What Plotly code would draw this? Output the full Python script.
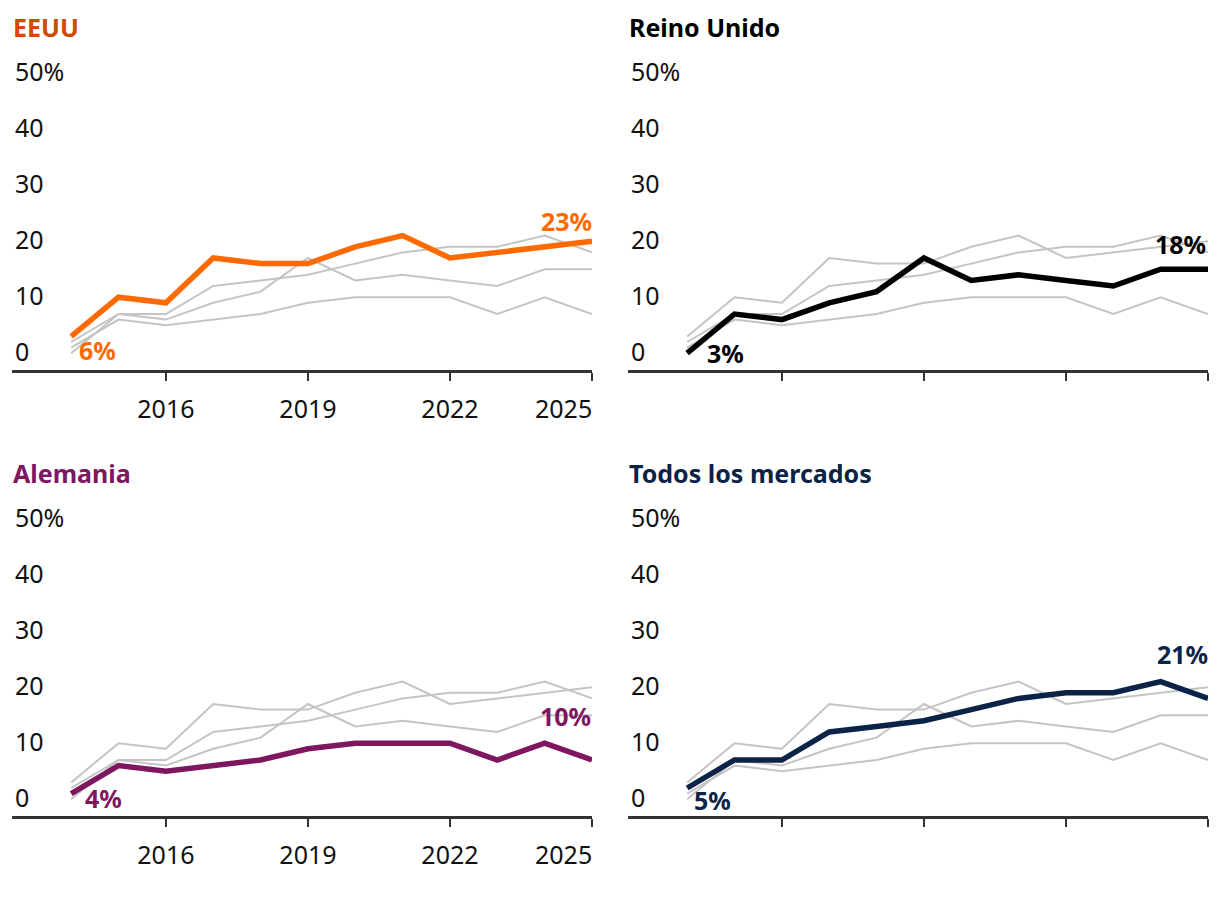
import plotly.graph_objects as go

years = list(range(2014, 2026))
eeuu = [6, 13, 12, 20, 19, 19, 22, 24, 20, 21, 22, 23]
reino_unido = [3, 10, 9, 12, 14, 20, 16, 17, 16, 15, 18, 18]
alemania = [4, 9, 8, 9, 10, 12, 13, 13, 13, 10, 13, 10]
todos = [5, 10, 10, 15, 16, 17, 19, 21, 22, 22, 24, 21]

names = ["EEUU", "Reino Unido", "Alemania", "Todos los mercados"]
series = [eeuu, reino_unido, alemania, todos]
line_colors = ["#ff6a00", "#000000", "#7f1660", "#0a2347"]
title_colors = ["#d04a02", "#000000", "#7f1660", "#0a2347"]

y_tickvals = [0, 10, 20, 30, 40, 50]
y_ticktext = ["0", "10", "20", "30", "40", "50%"]
x_tickvals = [2016, 2019, 2022, 2025]
x_ticktext = ["2016", "2019", "2022", ""]
last_year_label = "2025"

FONT = "Noto Sans"
FS = 25
OFF = 8  # page body margin
W, H = 1220 - OFF, 922 - OFF
PX_PER_UNIT = 5.6
Y_MAX = 62

fig = go.Figure()

# panel pixel geometry in page coords (left, right) and zero-line y
x_dom = [(12 - OFF, 592 - OFF), (628 - OFF, 1208 - OFF)]
y_zero = [370 - OFF, 816 - OFF]

# annotation placement: (index, xanchor, xshift, yshift)
label_pos = {
    0: [(0, "left", 6, -14), (-1, "right", 2, 20)],
    1: [(0, "left", 18, 0), (-1, "right", 0, 25)],
    2: [(0, "left", 12, -4), (-1, "right", 1, 44)],
    3: [(0, "left", 5, -12), (-1, "right", 2, 44)],
}

for i in range(4):
    r, c = divmod(i, 2)
    ax = "" if i == 0 else str(i + 1)
    xa, ya = "x" + ax, "y" + ax
    for j in range(4):
        if j == i:
            continue
        fig.add_trace(go.Scatter(x=years, y=series[j], mode="lines", xaxis=xa, yaxis=ya,
                                 line=dict(color="#c4c4c4", width=2), hoverinfo="skip",
                                 showlegend=False))
    fig.add_trace(go.Scatter(x=years, y=series[i], mode="lines", xaxis=xa, yaxis=ya,
                             line=dict(color=line_colors[i], width=5.5), showlegend=False))
    x0, x1 = x_dom[c]
    yb = y_zero[r]
    yt = yb - Y_MAX * PX_PER_UNIT
    fig.update_layout(**{
        "xaxis" + ax: dict(domain=[x0 / W, x1 / W], range=[2012.75, 2025],
                           tickvals=x_tickvals, ticktext=x_ticktext,
                           showticklabels=(c == 0),
                           ticks="outside", ticklen=8, tickwidth=2, tickcolor="#333333",
                           showline=True, linecolor="#333333", linewidth=2.5,
                           showgrid=False, zeroline=False, anchor=ya, automargin=False,
                           tickfont=dict(family=FONT, size=FS, color="#111111"),
                           ticklabelstandoff=7, fixedrange=True),
        "yaxis" + ax: dict(domain=[1 - yb / H, 1 - yt / H], range=[0, Y_MAX],
                           tickvals=y_tickvals, ticktext=y_ticktext,
                           ticklabelposition="inside top", ticks="",
                           showgrid=False, zeroline=False, showline=False,
                           anchor=xa, automargin=False,
                           tickfont=dict(family=FONT, size=FS, color="#111111"),
                           fixedrange=True),
    })
    if c == 0:
        fig.add_annotation(text=last_year_label, x=2025, xref=xa, yref="paper",
                           y=1 - (yb + 38) / H, xanchor="right", yanchor="middle",
                           showarrow=False, xshift=2,
                           font=dict(family=FONT, size=FS, color="#111111"))
    # title
    fig.add_annotation(text="<b>%s</b>" % names[i], xref="paper", yref="paper",
                       x=(x0 - 1) / W, y=1 - (yb - 343) / H, xanchor="left", yanchor="middle",
                       showarrow=False,
                       font=dict(family=FONT, size=FS, color=title_colors[i]))
    for idx, xan, xs, ys in label_pos[i]:
        fig.add_annotation(text="<b>%d%%</b>" % series[i][idx], x=years[idx], y=series[i][idx],
                           xref=xa, yref=ya, xanchor=xan, yanchor="middle", xshift=xs, yshift=ys,
                           showarrow=False,
                           font=dict(family=FONT, size=FS, color=line_colors[i]))

fig.update_layout(width=W, height=H, margin=dict(l=0, r=0, t=0, b=0, autoexpand=False),
                  plot_bgcolor="white", paper_bgcolor="white", showlegend=False)

fig.write_html("out.html")
